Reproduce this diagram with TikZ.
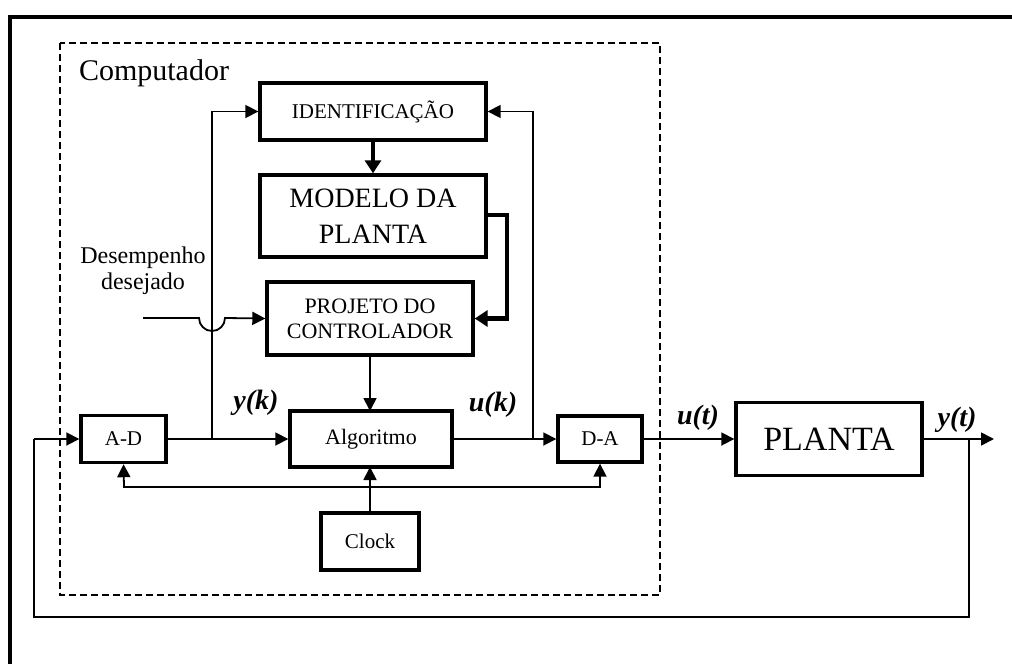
\documentclass[tikz,border=0pt]{standalone}
\usepackage{fontspec}
\setmainfont{Liberation Serif}
\usetikzlibrary{arrows.meta,calc}
\begin{document}
\begin{tikzpicture}[x=1pt,y=-1pt,
  box/.style={draw,line width=3.4pt,inner sep=0pt,align=center},
  conn/.style={line width=1.8pt,-{Triangle[length=13pt,width=13pt]}},
  thickconn/.style={line width=4.2pt,-{Triangle[length=13pt,width=16pt]}},
  sig/.style={font=\fontsize{28}{32}\selectfont\bfseries\itshape},
  fs/.style={font=\fontsize{#1}{#1}\selectfont}]
\useasboundingbox (0,0) rectangle (1012,664);
% outer frame (cropped)
\draw[line width=4.5pt] (8,17) -- (1012,17);
\draw[line width=4.5pt] (10,15) -- (10,664);
% computer region
\draw[line width=1.8pt,dash pattern=on 7pt off 4pt] (60,43) rectangle (660,595);
\node[fs=30] (comp) at (154,73) {Computador};
% blocks
\node[box,minimum width=226pt,minimum height=57pt,font=\fontsize{21}{25}\selectfont] (ident) at (373,111.5) {IDENTIFICAÇÃO};
\node[box,minimum width=226pt,minimum height=82pt,font=\fontsize{28}{36}\selectfont] (modelo) at (373,216) {MODELO DA\\PLANTA};
\node[box,minimum width=206pt,minimum height=73pt,font=\fontsize{22}{25}\selectfont] (proj) at (370,318.5) {PROJETO DO\\CONTROLADOR};
\node[box,minimum width=162pt,minimum height=56pt,font=\fontsize{22}{25}\selectfont] (alg) at (371,439) {Algoritmo};
\node[box,minimum width=85pt,minimum height=47pt,font=\fontsize{21}{24}\selectfont] (ad) at (123.5,439) {A-D};
\node[box,minimum width=84pt,minimum height=46pt,font=\fontsize{21}{24}\selectfont] (da) at (600,439) {D-A};
\node[box,minimum width=186pt,minimum height=73pt,font=\fontsize{34}{38}\selectfont] (planta) at (829,439) {PLANTA};
\node[box,minimum width=98pt,minimum height=57pt,font=\fontsize{21}{24}\selectfont] (clock) at (370,541.5) {Clock};
\node[align=center,font=\fontsize{24}{26}\selectfont] (des) at (143,271) {Desempenho\\desejado};
% labels
\node[sig] (yk) at (256,403) {y(k)};
\node[sig] (uk) at (493,405) {u(k)};
\node[sig] (ut) at (698,418) {u(t)};
\node[sig] (yt) at (957,420) {y(t)};
% coordinates
\coordinate (b1) at (212,439);
\coordinate (b2) at (533,439);
\coordinate (yb) at (969,439);
\coordinate (out) at (994,439);
\coordinate (din) at (143,318);
\coordinate (cl) at (370,487);
% connectors
\draw[conn] (ad.east) -- (alg.west);
\draw[conn] (b1) -- (212,111.5) -- (ident.west);
\draw[conn] (alg.east) -- (da.west);
\draw[conn] (b2) -- (533,111.5) -- (ident.east);
\draw[thickconn] (ident.south) -- (modelo.north);
\draw[thickconn] (modelo.east |- 0,215) -- (507,215) -- (507,318.5) -- (proj.east);
\draw[conn] (proj.south) -- (370,411);
\draw[conn] (din) -- (199,318) arc[start angle=180,end angle=0,radius=13] -- (proj.west);
\draw[conn] (clock.north) -- (370,467);
\draw[conn] (cl) -- (124,487) -- (ad.south);
\draw[conn] (cl) -- (600,487) -- (da.south);
\draw[conn] (da.east) -- (planta.west);
\draw[conn] (planta.east) -- (out);
\draw[line width=2.2pt] (yb) -- (969,617) -- (34,617) -- (34,439);
\draw[conn] (34,439) -- (ad.west);
\end{tikzpicture}
\end{document}
